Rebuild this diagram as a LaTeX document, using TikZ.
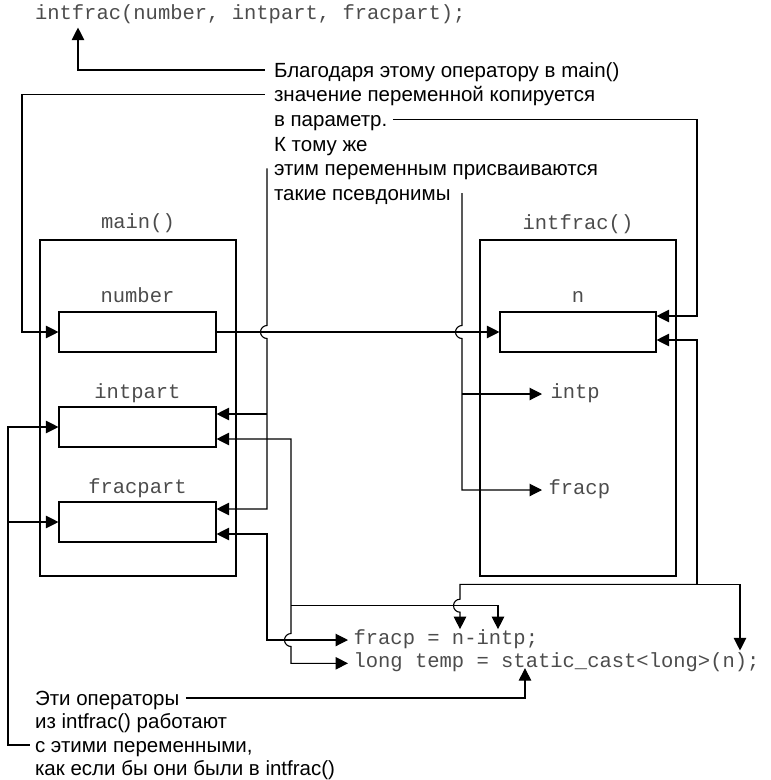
\documentclass[tikz,border=0pt]{standalone}
\usepackage{fontspec}
\setmainfont{Liberation Sans}
\newfontfamily\codefont{Liberation Mono}
\usetikzlibrary{arrows.meta,calc}
\begin{document}
\begin{tikzpicture}[x=1pt,y=-1pt,
  line width=1.1pt,
  arr/.style={-{Triangle[length=12.5pt,width=12.5pt]}},
  arrs/.style={{Triangle[length=12.5pt,width=12.5pt]}-{Triangle[length=12.5pt,width=12.5pt]}},
  notetxt/.style={font=\fontsize{20.5}{24}\selectfont, inner sep=0pt, text height=14.7pt, text depth=0pt, anchor=west},
  codetxt/.style={font=\codefont\fontsize{20.5}{24}\selectfont, text=black!70, inner ysep=0pt, text height=8.6pt, text depth=0pt},
  codelbl/.style={font=\codefont\fontsize{20.5}{24}\selectfont, text=black!70, inner sep=0pt, text depth=4pt, anchor=base},
  varbox/.style={draw, minimum width=157pt, minimum height=40pt, inner sep=0pt},
  fnbox/.style={draw, minimum width=196pt, minimum height=336pt, inner sep=0pt},
]
\useasboundingbox (0,0) rectangle (771,780);

% frames and variable boxes
\node[fnbox] (mainbox) at (138,408) {};
\node[fnbox] (ifbox) at (578,408) {};
\node[varbox] (numbox) at (137.5,332) {};
\node[varbox] (intbox) at (137.5,427) {};
\node[varbox] (fracbox) at (137.5,522) {};
\node[varbox, minimum width=156pt] (nbox) at (578,332) {};

% code labels
\node[codelbl, anchor=base west] (top) at (34.5,19.5) {intfrac(number, intpart, fracpart);};
\node[codelbl] (mainlbl) at (138,228) {main()};
\node[codelbl] (numlbl) at (137.5,302) {number};
\node[codelbl] (intlbl) at (137.5,398) {intpart};
\node[codelbl] (fraclbl) at (137.5,493) {fracpart};
\node[codelbl] (iflbl) at (578,229) {intfrac()};
\node[codelbl] (nlbl) at (578,302) {n};
\node[codetxt, anchor=west, inner xsep=8pt] (intplbl) at (542,394) {intp};
\node[codetxt, anchor=west, inner xsep=6pt] (fracplbl) at (542,490) {fracp};
\node[codetxt, anchor=west, inner xsep=5pt] (c1) at (348,640) {fracp = n-intp;};
\node[codetxt, anchor=west, inner xsep=5pt] (c2) at (348,663.3) {long temp = static\_cast<long>(n);};

% annotations
\node[notetxt] (t1) at (273.5,70) {Благодаря этому оператору в main()};
\node[notetxt] (t2) at (273.5,94.6) {значение переменной копируется};
\node[notetxt] (t3) at (273.5,119.2) {в параметр.};
\node[notetxt] (t4) at (273.5,143.8) {К тому же};
\node[notetxt] (t5) at (273.5,168.4) {этим переменным присваиваются};
\node[notetxt] (t6) at (273.5,193) {такие псевдонимы};
\node[notetxt] (b1) at (34.5,698) {Эти операторы};
\node[notetxt] (b2) at (34.5,721.5) {из intfrac() работают};
\node[notetxt] (b3) at (34.5,745) {с этими переменными,};
\node[notetxt] (b4) at (34.5,768.5) {как если бы они были в intfrac()};

% helper coordinates
\coordinate (L0) at (8,0);
\coordinate (L1) at (22,0);
\coordinate (A0) at (78,0);
\coordinate (V1) at (267,0);
\coordinate (V4) at (291,0);
\coordinate (V3) at (460,0);
\coordinate (V2) at (462,0);
\coordinate (V5) at (498,0);
\coordinate (V6) at (525,0);
\coordinate (R1) at (697,0);
\coordinate (R2) at (740,0);
\coordinate (H1) at (0,584.3);
\coordinate (H2) at (0,605.7);
\coordinate (topT) at ([yshift=-3.5pt]top.south);
\coordinate (nR1) at ([yshift=16pt]nbox.east);
\coordinate (nR2) at ([yshift=-8pt]nbox.east);
\coordinate (iR1) at ([yshift=13pt]intbox.east);
\coordinate (iR2) at ([yshift=-12pt]intbox.east);
\coordinate (fR1) at ([yshift=13pt]fracbox.east);
\coordinate (fR2) at ([yshift=-12pt]fracbox.east);
\coordinate (c1top) at ([yshift=6pt]c1.north);
\coordinate (c2top) at ([yshift=8pt]c2.north);

% connectors
\draw[arr] ([xshift=-9pt]t1.west) -| (topT -| A0);
\draw[arr] ([xshift=-9pt]t2.west) -| (numbox.west -| L1) -- (numbox.west);
\draw[arr] ([xshift=5pt]t3.east) -| (nR1 -| R1) -- (nR1);
\draw[arr] (t5.west -| V1) -- ($(numbox.east -| V1)+(0,-6.5)$) arc[start angle=270, end angle=90, radius=6.5] |- (fR1);
\draw[arr] (iR1 -| V1) -- (iR1);
\draw[arr] (t6.east -| V2) -- ($(nbox.west -| V2)+(0,-6.5)$) arc[start angle=270, end angle=90, radius=6.5] |- (fracplbl.west);
\draw[arr] (intplbl.west -| V2) -- (intplbl.west);
\draw[arr] (numbox.east) -- (nbox.west);
\draw[arr] (H1 -| R1) |- (nR2);
\draw[arr] (H1 -| R1) -| (c2top -| R2);
\draw[arr] (H1 -| R1) -- (H1 -| V3) -- ($(H2 -| V3)+(0,-6.5)$) arc[start angle=270, end angle=90, radius=6.5] -- (c1top -| V3);
\draw[arrs] (iR2) -| ($(c1.west -| V4)+(0,-6.5)$) arc[start angle=270, end angle=90, radius=6.5] |- (c2.west);
\draw[arr] (H2 -| V4) -| (c1top -| V5);
\draw[arrs] (fR2) -| (c1.west -| V1) -- (c1.west);
\draw[arr] ([xshift=-5pt]b3.west) -| (intbox.west -| L0) -- (intbox.west);
\draw[arr] (fracbox.west -| L0) -- (fracbox.west);
\draw[arr] ([xshift=6pt]b1.east) -| (c2.south -| V6);
\end{tikzpicture}
\end{document}
